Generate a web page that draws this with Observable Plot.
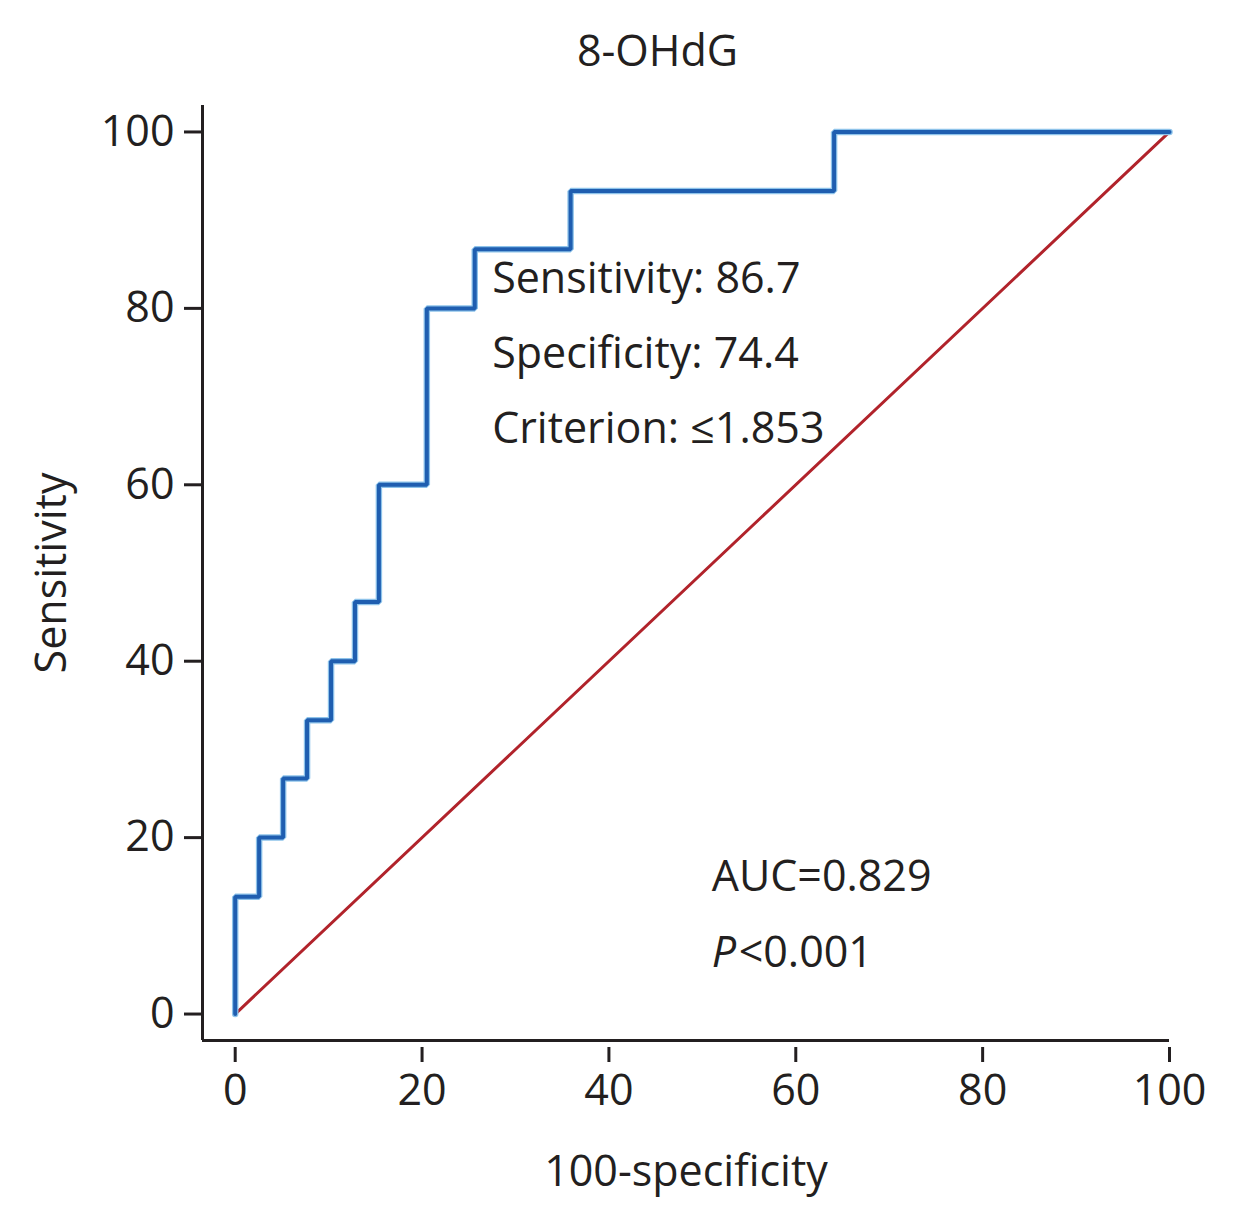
<!DOCTYPE html>
<html>
<head>
<meta charset="utf-8">
<script src="https://cdn.jsdelivr.net/npm/d3@7"></script>
<script src="https://cdn.jsdelivr.net/npm/@observablehq/plot@0.6"></script>
<style>
  body { margin: 0; background: #fff; }
  #chart { width: 1235px; height: 1226px; }
</style>
</head>
<body>
<div id="chart"></div>
<script>
// ROC curve points: 100-specificity (x) and sensitivity (y), step corners
const rocX = [0, 0, 2.56, 2.56, 5.13, 5.13, 7.69, 7.69, 10.26, 10.26, 12.82, 12.82, 15.38, 15.38, 20.51, 20.51, 25.64, 25.64, 35.9, 35.9, 64.1, 64.1, 100];
const rocY = [0, 13.3, 13.3, 20, 20, 26.7, 26.7, 33.3, 33.3, 40, 40, 46.7, 46.7, 60, 60, 80, 80, 86.7, 86.7, 93.3, 93.3, 100, 100];
const refX = [0, 100];
const refY = [0, 100];
const xTicks = [0, 20, 40, 60, 80, 100];
const yTicks = [0, 20, 40, 60, 80, 100];
const xDomain = [-3.5, 100];
const yDomain = [-3, 103];
const titleText = "8-OHdG";
const xLabel = "100-specificity";
const yLabel = "Sensitivity";
const statLines = ["Sensitivity: 86.7", "Specificity: 74.4", "Criterion: \u22641.853"];
const statY = [83.3, 74.8, 66.3];
const statX = 27.5;
const aucX = 51;

const roc = rocX.map((x, i) => ({x, y: rocY[i]}));
const ref = refX.map((x, i) => ({x, y: refY[i]}));
const stats = statLines.map((t, i) => ({t, x: statX, y: statY[i]}));

const font = "'Open Sans', sans-serif";
const fs = 43;
const ink = "#231f20";
const plot = Plot.plot({
  width: 1235,
  height: 1226,
  marginLeft: 202,
  marginRight: 66,
  marginTop: 105,
  marginBottom: 186,
  style: {fontFamily: font, fontSize: fs + "px", color: ink, background: "#fff"},
  x: {domain: xDomain},
  y: {domain: yDomain},
  marks: [
    Plot.ruleY([yDomain[0]], {x1: xDomain[0], x2: xDomain[1], stroke: ink, strokeWidth: 3}),
    Plot.ruleX([xDomain[0]], {y1: yDomain[0], y2: yDomain[1], stroke: ink, strokeWidth: 3}),
    Plot.axisX({ticks: xTicks, tickSize: 15, dy: 7, tickPadding: 12, strokeWidth: 3, fontSize: fs, label: null}),
    Plot.axisY({ticks: yTicks, tickSize: 18, tickPadding: 10, strokeWidth: 3, fontSize: fs, label: null}),
    Plot.text([xLabel], {frameAnchor: "bottom", dy: 145, fontSize: fs, fill: ink}),
    Plot.text([yLabel], {frameAnchor: "left", textAnchor: "middle", dx: -150, rotate: -90, fontSize: fs, fill: ink}),
    Plot.text([titleText], {x: 45.2, frameAnchor: "top", dy: -70, fontSize: fs, fill: ink}),
    Plot.line(ref, {x: "x", y: "y", stroke: "#b1232b", strokeWidth: 3}),
    Plot.line(roc, {x: "x", y: "y", stroke: "#8ec3ea", strokeWidth: 6.5, strokeLinejoin: "miter"}),
    Plot.line(roc, {x: "x", y: "y", stroke: "#1f5eb0", strokeWidth: 4, strokeLinejoin: "miter"}),
    Plot.text(stats, {x: "x", y: "y", text: "t", textAnchor: "start", fontSize: fs, fill: ink}),
    Plot.text(["AUC=0.829"], {x: aucX, y: 15.5, textAnchor: "start", fontSize: fs, fill: ink}),
    Plot.text(["<0.001"], {x: aucX, y: 6.9, dx: 27, textAnchor: "start", fontSize: fs, fill: ink}),
    Plot.text(["P"], {x: aucX, y: 6.9, textAnchor: "start", fontSize: fs, fontStyle: "italic", fill: ink})
  ]
});
document.getElementById("chart").appendChild(plot);
</script>
</body>
</html>
